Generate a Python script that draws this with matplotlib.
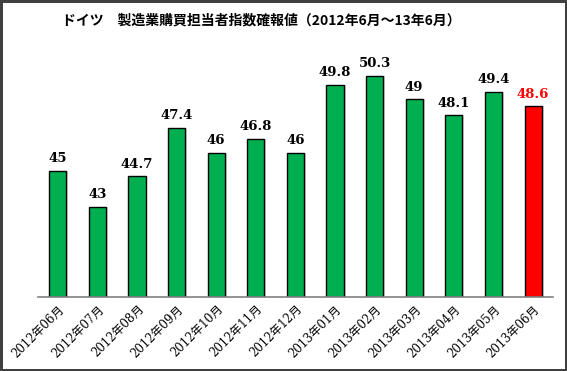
import matplotlib
matplotlib.use("Agg")
import matplotlib.pyplot as plt

plt.rcParams['font.family'] = ['DejaVu Serif', 'Noto Sans CJK JP']

# data
months = ["2012年06月", "2012年07月", "2012年08月", "2012年09月", "2012年10月",
          "2012年11月", "2012年12月", "2013年01月", "2013年02月", "2013年03月",
          "2013年04月", "2013年05月", "2013年06月"]
values = [45, 43, 44.7, 47.4, 46, 46.8, 46, 49.8, 50.3, 49, 48.1, 49.4, 48.6]
labels = ["45", "43", "44.7", "47.4", "46", "46.8", "46", "49.8", "50.3",
          "49", "48.1", "49.4", "48.6"]

colors = ['#00b050'] * (len(values) - 1) + ['#ff0000']
label_colors = ['black'] * (len(values) - 1) + ['#ff0000']

fig = plt.figure(figsize=(5.67, 3.71), dpi=100, edgecolor='#404040', linewidth=2.5)
ax = fig.add_axes([0.067, 0.1995, 0.908, 0.679])

x = list(range(len(values)))
base = 38
heights = [v - base for v in values]

# soft shadow behind bars
ax.bar([i + 0.05 for i in x], heights, width=0.43, bottom=base,
       color='#d9d9d9', zorder=1)
ax.bar(x, heights, width=0.43, bottom=base, color=colors,
       edgecolor='black', linewidth=1.0, zorder=2)

for i, v in enumerate(values):
    ax.annotate(labels[i], (i, v), xytext=(0, 4), textcoords='offset points',
                ha='center', va='bottom', fontsize=9.5, fontweight='bold',
                color=label_colors[i])

ax.set_xlim(-0.5, len(values) - 0.5)
ax.set_ylim(base, 52)
ax.set_xticks(x)
ax.set_xticklabels(months, rotation=45, ha='right', rotation_mode='anchor',
                   fontsize=8.5)
ax.tick_params(axis='x', length=0, pad=4)
ax.set_yticks([])
for s in ['top', 'right', 'left']:
    ax.spines[s].set_visible(False)
ax.spines['bottom'].set_color('#808080')
ax.spines['bottom'].set_linewidth(1.2)

fig.text(0.46, 0.945, "ドイツ　製造業購買担当者指数確報値（2012年6月～13年6月）",
         ha='center', va='center', fontsize=10, fontweight='bold',
         family=['Noto Sans CJK JP', 'DejaVu Sans'])

fig.savefig("out.png", dpi=100, edgecolor=fig.get_edgecolor())
